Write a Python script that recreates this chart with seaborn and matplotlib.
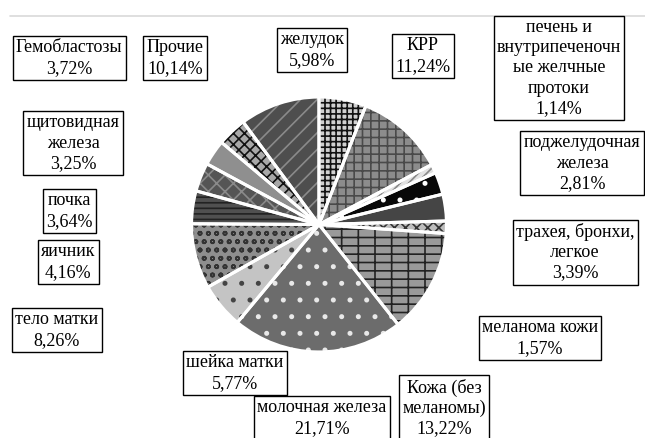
import matplotlib
matplotlib.use("Agg")
import matplotlib.pyplot as plt
import seaborn as sns
import numpy as np

sns.set_theme(style="white")
plt.rcParams['font.family'] = ['Liberation Serif', 'DejaVu Serif']
plt.rcParams['hatch.linewidth'] = 1.2

categories = ["желудок", "КРР", "печень и\nвнутрипеченочн\nые желчные\nпротоки",
              "поджелудочная\nжелеза", "трахея, бронхи,\nлегкое", "меланома кожи",
              "Кожа (без\nмеланомы)", "молочная железа", "шейка матки",
              "тело матки", "яичник", "почка", "щитовидная\nжелеза",
              "Гемобластозы", "Прочие"]
values = [5.98, 11.24, 1.14, 2.81, 3.39, 1.57, 13.22, 21.71, 5.77,
          8.26, 4.16, 3.64, 3.25, 3.72, 10.14]
value_labels = ["5,98%", "11,24%", "1,14%", "2,81%", "3,39%", "1,57%", "13,22%",
                "21,71%", "5,77%", "8,26%", "4,16%", "3,64%", "3,25%", "3,72%", "10,14%"]

# style per slice: facecolor, hatch, hatch color
face = ["#d0d0d0", "#8c8c8c", "#e2e2e2", "#080808", "#454545", "#bdbdbd", "#9a9a9a",
        "#6c6c6c", "#c4c4c4", "#8e8e8e", "#505050", "#555555", "#8f8f8f", "#a8a8a8", "#4e4e4e"]
hatches = ["+++", "++", "////", ".", "", "xxx", "--|", ".", ".", "oo", "---", "xx", "", "xxx", "//"]
hcolors = ["#111111", "#4a4a4a", "#888888", "#ffffff", "#454545", "#333333", "#222222",
           "#e8e8e8", "#444444", "#333333", "#222222", "#8a8a8a", "#8f8f8f", "#111111", "#8a8a8a"]

# label box centers in pixel coordinates (x from left, y from top)
label_pos = [(312, 50), (423, 56), (559, 68), (582, 163), (575, 252), (540, 338),
             (444, 408), (322, 418), (235, 373), (57, 330), (68, 262), (69, 211),
             (73, 143), (69, 58), (175, 58)]

W, H = 645, 438
fig = plt.figure(figsize=(W / 100, H / 100), dpi=100)
fig.patch.set_facecolor("white")

# faint frame line at top
fig.add_artist(plt.Line2D([10 / W, 1.0], [1 - 16 / H, 1 - 16 / H], color="#d9d9d9", lw=1.2,
                          transform=fig.transFigure))

cx, cy, R = 319, 224.5, 130
ax = fig.add_axes([(cx - R) / W, (H - cy - R) / H, 2 * R / W, 2 * R / H])
ax.set_axis_off()

wedges, _ = ax.pie(values, startangle=90, counterclock=False,
                   wedgeprops=dict(linewidth=0))
for w, fc, ht, hc in zip(wedges, face, hatches, hcolors):
    w.set_facecolor(fc)
    w.set_edgecolor(hc)
    w.set_linewidth(0)
    if ht:
        w.set_hatch(ht)
# white separators
ax.pie(values, startangle=90, counterclock=False,
       wedgeprops=dict(facecolor="none", edgecolor="white", linewidth=2.2))
ax.set_xlim(-1.02, 1.02)
ax.set_ylim(-1.02, 1.02)

for cat, vl, (px, py) in zip(categories, value_labels, label_pos):
    fig.text(px / W, 1 - py / H, cat + "\n" + vl, ha="center", va="center",
             fontsize=13, linespacing=1.25, color="black",
             bbox=dict(boxstyle="square,pad=0.18", facecolor="white",
                       edgecolor="black", linewidth=1.0))

fig.savefig("out.png", dpi=100, facecolor="white")
